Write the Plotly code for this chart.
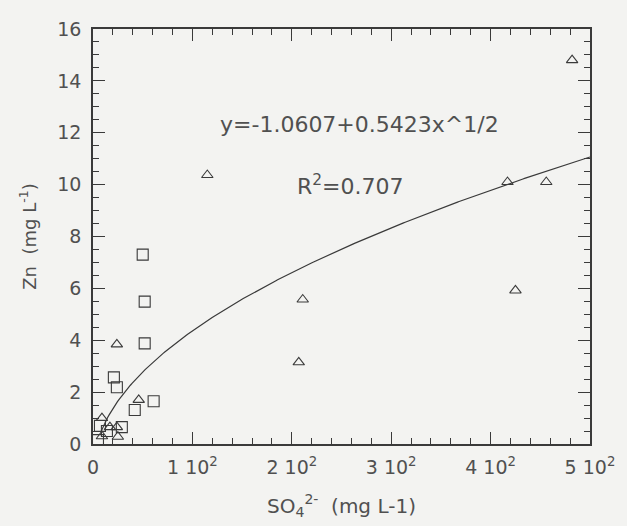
import numpy as np
import plotly.graph_objects as go

# Zn vs sulphate observations (mg/L)
tri_so4 = [9, 17, 24, 9, 25, 24, 46, 115, 207, 211, 417, 425, 456, 482]
tri_zn = [1.0, 0.65, 0.65, 0.3, 0.28, 3.84, 1.7, 10.37, 3.15, 5.57, 10.1, 5.92, 10.1, 14.8]

sq_so4 = [5, 7, 14, 29, 21, 24, 42, 50, 52, 52, 61]
sq_zn = [0.15, 0.7, 0.5, 0.65, 2.57, 2.19, 1.31, 7.3, 5.49, 3.88, 1.65]

# square-root fit: y = a + b*sqrt(x)
fit_a = -1.0607
fit_b = 0.5423
fit_r2 = 0.707

x_ticks = [0, 100, 200, 300, 400, 500]
x_ticktext = ["0", "1 10<sup>2</sup>", "2 10<sup>2</sup>", "3 10<sup>2</sup>",
              "4 10<sup>2</sup>", "5 10<sup>2</sup>"]
y_ticks = [0, 2, 4, 6, 8, 10, 12, 14, 16]

ink = "#3a3a3a"
txt = "#505050"
bg = "#f3f3f1"

xf = np.linspace(8, 500, 300)
yf = fit_a + fit_b * np.sqrt(xf)

fig = go.Figure()
fig.add_trace(go.Scatter(x=xf, y=yf, mode="lines",
                         line=dict(color=ink, width=1.2), showlegend=False))
fig.add_trace(go.Scatter(x=tri_so4, y=tri_zn, mode="markers",
                         marker=dict(symbol="triangle-up-open", size=10,
                                     color=ink, line=dict(width=1.1)),
                         showlegend=False))
fig.add_trace(go.Scatter(x=sq_so4, y=sq_zn, mode="markers",
                         marker=dict(symbol="square-open", size=11,
                                     color=ink, line=dict(width=1.1)),
                         showlegend=False))

fig.add_annotation(x=268, y=12.3, xref="x", yref="y", showarrow=False,
                   text=f"y={fit_a}+{fit_b}x^1/2",
                   font=dict(size=22, color=txt))
fig.add_annotation(x=259, y=10.0, xref="x", yref="y", showarrow=False,
                   text=f"R<sup>2</sup>={fit_r2}",
                   font=dict(size=22, color=txt))

axis_common = dict(showgrid=False, zeroline=False, showline=True,
                   linecolor=ink, linewidth=1.5, mirror="ticks",
                   ticks="inside", tickcolor=ink, tickwidth=1.2, ticklen=12,
                   tickfont=dict(size=19, color=txt))

fig.update_xaxes(range=[0, 500], tickvals=x_ticks, ticktext=x_ticktext,
                 ticklabelstandoff=5,
                 minor=dict(dtick=20, ticks="inside", ticklen=6,
                            tickcolor=ink, tickwidth=1.1),
                 title=dict(text="SO<sub>4</sub><sup>2-</sup>  (mg L-1)",
                            font=dict(size=20, color=txt), standoff=22),
                 **axis_common)
fig.update_yaxes(range=[0, 16], tickvals=y_ticks,
                 ticklabelstandoff=6,
                 minor=dict(dtick=0.5, ticks="inside", ticklen=6,
                            tickcolor=ink, tickwidth=1.1),
                 title=dict(text="Zn  (mg L<sup>-1</sup>)",
                            font=dict(size=18, color=txt), standoff=16),
                 **axis_common)

fig.update_layout(width=627, height=526,
                  margin=dict(l=93, r=34, t=29, b=81),
                  paper_bgcolor=bg, plot_bgcolor=bg,
                  font=dict(family="DejaVu Sans, Verdana, sans-serif", color=txt))

fig.write_html("out.html")
